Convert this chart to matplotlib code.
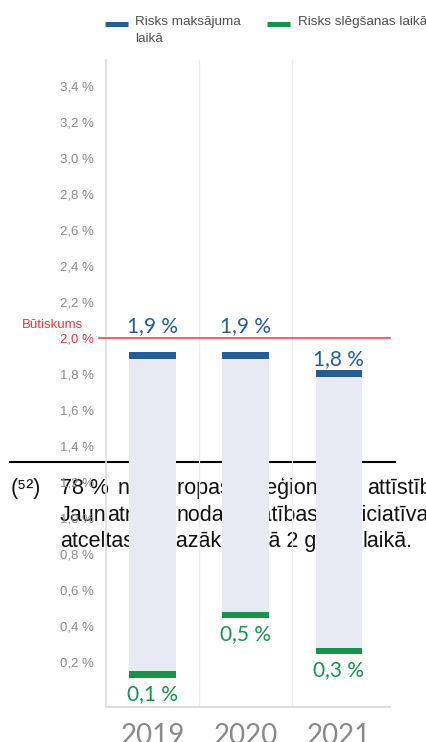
import matplotlib
matplotlib.use("Agg")
import matplotlib.pyplot as plt
from matplotlib.lines import Line2D
import numpy as np

# ---------------- data ----------------
years = ["2019", "2020", "2021"]
risk_payment = [1.90, 1.90, 1.80]      # Risks maksājuma laikā (%)
risk_closure = [0.13, 0.46, 0.26]      # Risks slēgšanas laikā (%)
materiality = 2.0                      # Būtiskums (%)
ytick_values = [0.2, 0.4, 0.6, 0.8, 1.0, 1.2, 1.4, 1.6, 1.8, 2.0,
                2.2, 2.4, 2.6, 2.8, 3.0, 3.2, 3.4]
series_labels = ["Risks maksājuma\nlaikā", "Risks slēgšanas laikā"]
threshold_label = "Būtiskums"

# background footnote text (page text lying behind the chart)
footnote_mark = "(⁵²)"
footnote_words = [
    [("78 %", 60), ("no", 118), ("Eiropas", 158), ("reģionālās", 259),
     ("attīstības", 367)],
    [("Jaun", 60), ("atnes", 107), ("nodarbinātības", 177), ("iniciatīvas", 346)],
    [("atceltas", 60), ("mazāk", 159), ("nekā 2 gadu", 234), ("laikā.", 363)],
]

# ---------------- style ----------------
W, H = 426, 742
BLUE = "#255E97"
GREEN = "#16924A"
FILL = "#E7EAF3"
RED = "#E8383D"
GRAY = "#8C8C8C"
SANS = ["Liberation Sans", "DejaVu Sans"]
ROUND = ["Lato", "DejaVu Sans"]

def fx(px):
    return px / W

def fy(py):
    return 1 - py / H

fig = plt.figure(figsize=(W / 100, H / 100), dpi=100)
fig.patch.set_facecolor("white")

# footnote (drawn under the chart)
fn_base = [494, 521, 547]
fig.text(fx(11), fy(fn_base[0]), footnote_mark, fontsize=15.5, family=SANS,
         color="#111111", va="baseline", ha="left", zorder=-2)
for line, yb in zip(footnote_words, fn_base):
    for word, xp in line:
        fig.text(fx(xp), fy(yb), word, fontsize=15.5, family=SANS,
                 color="#111111", va="baseline", ha="left", zorder=-2)
fig.add_artist(Line2D([fx(10), fx(395)], [fy(461.5), fy(461.5)],
                      transform=fig.transFigure, color="black", lw=1.5,
                      zorder=-2))

# axes
ax = fig.add_axes([fx(106), fy(707), fx(390) - fx(106), fy(60) - fy(707)])
ax.patch.set_facecolor("none")
zero_px = 697.7
ppu = 180.0
ax.set_ylim((zero_px - 707) / ppu, (zero_px - 60) / ppu)
ax.set_xlim(-0.5, len(years) - 0.45)

x = np.arange(len(years))
pay = np.array(risk_payment)
clo = np.array(risk_closure)
cap = 0.037
bw = 0.5

ax.bar(x, pay - clo, bottom=clo, width=bw, color=FILL, zorder=2)
ax.bar(x, cap, bottom=pay - cap / 2, width=bw, color=BLUE, zorder=3)
ax.bar(x, cap, bottom=clo - cap / 2, width=bw, color=GREEN, zorder=3)

# materiality line
ax.axhline(materiality, xmin=-0.024, xmax=1.0, color=RED, lw=1.1,
           clip_on=False, zorder=4)
ax.annotate(threshold_label, xy=(0, materiality),
            xycoords=("axes fraction", "data"), xytext=(-16.5, 9.5),
            textcoords="offset points", ha="right", va="center",
            color=RED, fontsize=9.5, family=SANS)

def fmt(v):
    return f"{v:.1f}".replace(".", ",") + " %"

label_h = 0.085
for xi, v in zip(x, pay):
    top = v + cap / 2
    if v < materiality and top + 0.03 + label_h > materiality:
        ax.annotate(fmt(v), xy=(xi, materiality), xytext=(0, 4.3),
                    textcoords="offset points", ha="center", va="baseline",
                    color=BLUE, fontsize=15, family=ROUND, zorder=5)
    else:
        ax.annotate(fmt(v), xy=(xi, top), xytext=(0, 3.8),
                    textcoords="offset points", ha="center", va="baseline",
                    color=BLUE, fontsize=15, family=ROUND, zorder=5)
for xi, v in zip(x, clo):
    ax.annotate(fmt(v), xy=(xi, v - cap / 2), xytext=(0, -4.5),
                textcoords="offset points", ha="center", va="top",
                color=GREEN, fontsize=15, family=ROUND, zorder=5)

# axes styling
for s in ("top", "right"):
    ax.spines[s].set_visible(False)
ax.spines["left"].set_color("#DEDEDE")
ax.spines["left"].set_linewidth(1.2)
ax.spines["bottom"].set_color("#DEDEDE")
ax.spines["bottom"].set_linewidth(1.5)

ax.set_yticks(ytick_values)
ax.set_yticklabels([f"{v:.1f}".replace(".", ",") + " %" for v in ytick_values],
                   family=SANS)
ax.tick_params(axis="y", length=0, pad=9, labelsize=9.5, labelcolor=GRAY)
for t, v in zip(ax.get_yticklabels(), ytick_values):
    if abs(v - materiality) < 1e-9:
        t.set_color(RED)

ax.set_xticks(x)
ax.set_xticklabels(years, family=ROUND)
ax.tick_params(axis="x", length=0, pad=11.5, labelsize=20, labelcolor="#8A8A8A")
ax.set_xticks(x[:-1] + 0.5, minor=True)
ax.tick_params(axis="x", which="minor", length=0)
ax.grid(axis="x", which="minor", color="#ECECEC", lw=0.9)
ax.set_axisbelow(True)

# legend (manual, top of figure)
leg_colors = [BLUE, GREEN]
leg_x = [(105, 128, 135), (267, 290, 298)]
for (x0, x1, xt), c, lab in zip(leg_x, leg_colors, series_labels):
    fig.add_artist(Line2D([fx(x0), fx(x1)], [fy(23.5), fy(23.5)],
                          transform=fig.transFigure, color=c, lw=3.6,
                          solid_capstyle="butt"))
    fig.text(fx(xt), fy(16), lab, fontsize=9.7, family=SANS,
             color="#505050", va="top", ha="left", linespacing=1.5)

fig.savefig("out.png", dpi=100)
